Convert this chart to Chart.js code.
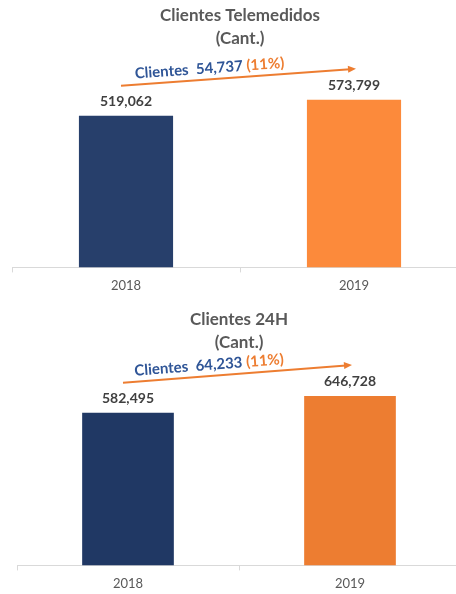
<!DOCTYPE html>
<html>
<head>
<meta charset="utf-8">
<script src="https://cdn.jsdelivr.net/npm/chart.js@4"></script>
<style>
  html, body { margin: 0; padding: 0; background: #fff; overflow: hidden; }
  #wrap1 { position: absolute; left: 0; top: 0; width: 468px; height: 300px; }
  #wrap2 { position: absolute; left: 0; top: 300px; width: 461px; height: 298px; }
</style>
</head>
<body>
<div id="wrap1"><canvas id="chart1"></canvas></div>
<div id="wrap2"><canvas id="chart2"></canvas></div>
<script>
const years = ['2018', '2019'];
const telemedidos = [519062, 573799];
const clientes24h = [582495, 646728];
const title1 = ['Clientes Telemedidos', '(Cant.)'];
const title2 = ['Clientes 24H', '(Cant.)'];
const arrowWord = 'Clientes';

Chart.defaults.font.family = 'Lato, "Open Sans", sans-serif';

const fmt = v => v.toLocaleString('en-US');

// value labels above bars + growth arrow with text
const extras = {
  id: 'extras',
  afterDatasetsDraw(chart) {
    const ctx = chart.ctx;
    const bars = chart.getDatasetMeta(0).data;
    const vals = chart.data.datasets[0].data;
    ctx.save();
    ctx.font = 'bold 14px Lato';
    ctx.fillStyle = '#404040';
    ctx.textAlign = 'center';
    ctx.textBaseline = 'middle';
    bars.forEach((b, i) => ctx.fillText(fmt(vals[i]), b.x, b.y - 14));

    const x1 = bars[0].x - 5, y1 = bars[0].y - 30;
    const x2 = bars[1].x + 2, y2 = bars[1].y - 31;
    const ang = Math.atan2(y2 - y1, x2 - x1);
    ctx.strokeStyle = '#ED7D31';
    ctx.fillStyle = '#ED7D31';
    ctx.lineWidth = 2;
    ctx.beginPath();
    ctx.moveTo(x1, y1);
    ctx.lineTo(x2 - 6 * Math.cos(ang), y2 - 6 * Math.sin(ang));
    ctx.stroke();
    ctx.save();
    ctx.translate(x2, y2);
    ctx.rotate(ang);
    ctx.beginPath();
    ctx.moveTo(0, 0);
    ctx.lineTo(-8, -3.5);
    ctx.lineTo(-8, 3.5);
    ctx.closePath();
    ctx.fill();
    ctx.restore();

    const diff = vals[1] - vals[0];
    const pct = Math.round(diff / vals[0] * 100);
    const parts = [
      [arrowWord + '  ', '#2F5597'],
      [fmt(diff) + ' ', '#2F5597'],
      ['(' + pct + '%)', '#ED7D31']
    ];
    ctx.font = 'bold 15px Lato';
    const total = parts.reduce((s, p) => s + ctx.measureText(p[0]).width, 0);
    const t = 0.38;
    const cx = x1 + (x2 - x1) * t, cy = y1 + (y2 - y1) * t;
    ctx.translate(cx, cy);
    ctx.rotate(ang);
    ctx.translate(0, -11);
    ctx.textAlign = 'left';
    let x = -total / 2;
    parts.forEach(p => {
      ctx.fillStyle = p[1];
      ctx.fillText(p[0], x, 0);
      x += ctx.measureText(p[0]).width;
    });
    ctx.restore();
  }
};

function makeChart(id, title, values, colors, yMax, padLeft, titlePad, padBottom) {
  return new Chart(document.getElementById(id), {
    type: 'bar',
    data: {
      labels: years,
      datasets: [{
        data: values,
        backgroundColor: colors,
        borderWidth: 0,
        categoryPercentage: 1,
        barPercentage: 0.413
      }]
    },
    options: {
      responsive: true,
      maintainAspectRatio: false,
      animation: false,
      layout: { padding: { left: padLeft, right: 0, top: 0, bottom: padBottom } },
      plugins: {
        legend: { display: false },
        tooltip: { enabled: false },
        title: {
          display: true,
          text: title,
          color: '#595959',
          font: { size: 17, weight: 'bold', lineHeight: 1.35 },
          padding: titlePad
        }
      },
      scales: {
        x: {
          border: { color: '#D9D9D9', width: 1 },
          grid: { drawOnChartArea: false, drawTicks: true, tickLength: 5, color: '#D9D9D9', offset: true },
          ticks: { color: '#595959', font: { size: 13 }, padding: 6 }
        },
        y: { display: false, min: 0, max: yMax }
      }
    },
    plugins: [extras]
  });
}

makeChart('chart1', title1, telemedidos, ['#273F6B', '#FC8A3B'], 700000, 12, { top: 4, bottom: 13 }, 0);
makeChart('chart2', title2, clientes24h, ['#203864', '#ED7D31'], 750000, 17, { top: 8, bottom: 15 }, 0);
</script>
</body>
</html>
